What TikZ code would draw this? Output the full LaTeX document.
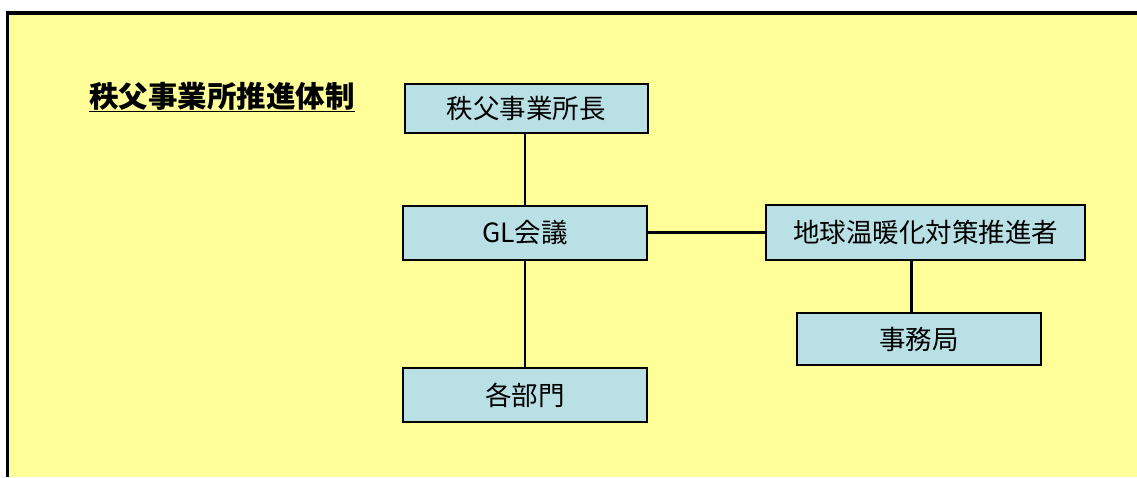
\documentclass[tikz,border=0pt]{standalone}
\usepackage{fontspec}
\setmainfont{Noto Sans CJK JP}
\usepackage{xcolor}
\usetikzlibrary{positioning, calc}
\definecolor{bgyellow}{RGB}{255, 255, 153}
\definecolor{boxblue}{RGB}{185, 224, 228}

\begin{document}
\begin{tikzpicture}[x=1pt, y=-1pt,
    orgbox/.style={draw=black, line width=2pt, fill=boxblue, inner sep=0pt, font=\fontsize{26.5}{30}\selectfont},
    link/.style={line width=2.5pt}]
        % Frame and background
        \useasboundingbox (0,0) rectangle (1137,477);
        \fill[bgyellow] (8,13) rectangle (1137,477);
        \draw[line width=3.5pt] (7.5,477) -- (7.5,13) -- (1137,13);
        
        % Title
        \node[anchor=west, inner sep=0pt, font=\fontsize{29.5}{33}\bfseries\selectfont] (title) at (89,97) {\underline{秩父事業所推進体制}};
        
        % Boxes
        \node[orgbox, minimum width=243pt, minimum height=49pt] (chief) at (526,108.5) {秩父事業所長};
        \node[orgbox, minimum width=244pt, minimum height=54pt] (meeting) at (525,232.5) {GL会議};
        \node[orgbox, minimum width=319pt, minimum height=55pt] (promoter) at (925.5,232.5) {地球温暖化対策推進者};
        \node[orgbox, minimum width=244pt, minimum height=52pt] (office) at (919,339) {事務局};
        \node[orgbox, minimum width=244pt, minimum height=54pt] (depts) at (525,395) {各部門};
        
        % Links
        \draw[link] (chief.south -| meeting.north) -- (meeting.north);
        \draw[link] (meeting.south) -- (depts.north);
        \draw[link] (meeting.east) -- (promoter.west);
        \draw[link] ([xshift=-14pt]promoter.south) -- ([xshift=-14pt]promoter.south |- office.north);
    \end{tikzpicture}
\end{document}
